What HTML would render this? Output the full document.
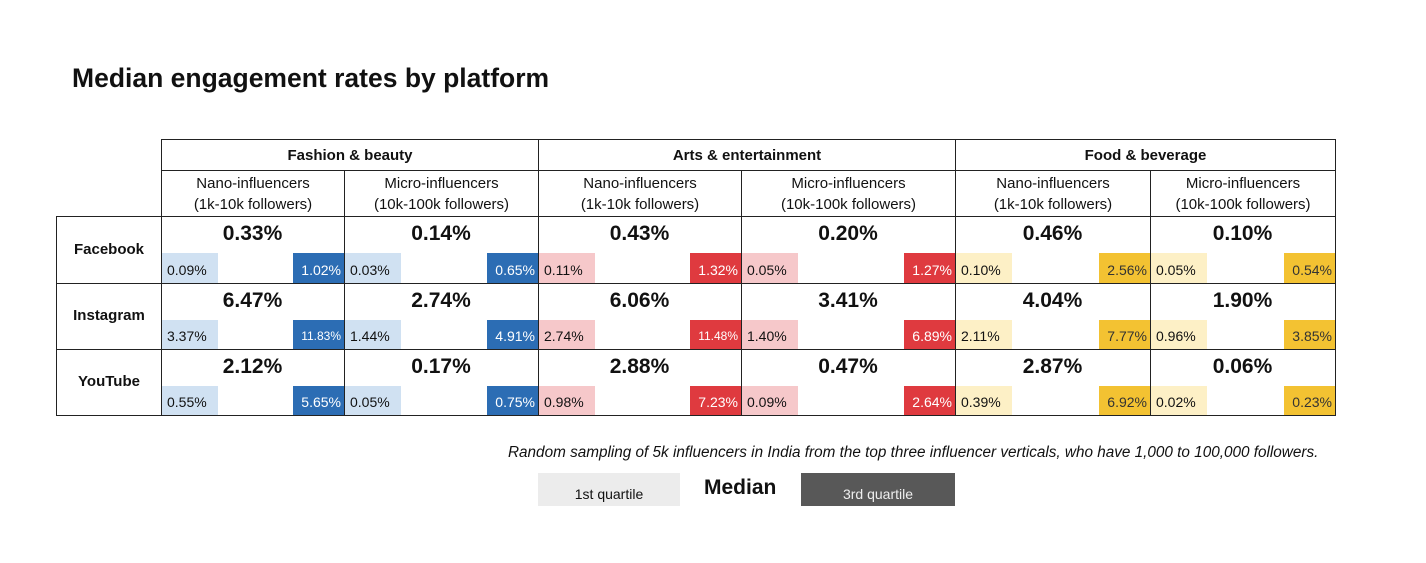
<!DOCTYPE html>
<html><head><meta charset="utf-8">
<style>
body{margin:0;width:1426px;height:563px;background:#fff;font-family:"Liberation Sans",sans-serif;position:relative;overflow:hidden;color:#111}
.a{position:absolute;box-sizing:border-box}
.t{white-space:nowrap}
</style></head><body>
<div class="a t" style="left:72px;top:63px;font-size:26.5px;font-weight:bold">Median engagement rates by platform</div>
<div id="tbl"></div>
<div class="a t" style="left:508px;top:444px;font-size:15.3px;font-style:italic">Random sampling of 5k influencers in India from the top three influencer verticals, who have 1,000 to 100,000 followers.</div>
<div class="a" style="left:538px;top:473px;width:142px;height:33px;background:#ececec;font-size:14px;text-align:center;line-height:42px">1st quartile</div>
<div class="a t" style="left:704px;top:476px;font-size:21px;font-weight:bold">Median</div>
<div class="a" style="left:801px;top:473px;width:154px;height:33px;background:#585858;color:#eee;font-size:14px;text-align:center;line-height:42px">3rd quartile</div>
<script>
const categories=["Fashion & beauty","Arts & entertainment","Food & beverage"];
const tiers=["Nano-influencers|(1k-10k followers)","Micro-influencers|(10k-100k followers)"];
const platforms=["Facebook","Instagram","YouTube"];
const medians=[[0.33,0.14,0.43,0.20,0.46,0.10],[6.47,2.74,6.06,3.41,4.04,1.90],[2.12,0.17,2.88,0.47,2.87,0.06]];
const q1=[[0.09,0.03,0.11,0.05,0.10,0.05],[3.37,1.44,2.74,1.40,2.11,0.96],[0.55,0.05,0.98,0.09,0.39,0.02]];
const q3=[[1.02,0.65,1.32,1.27,2.56,0.54],[11.83,4.91,11.48,6.89,7.77,3.85],[5.65,0.75,7.23,2.64,6.92,0.23]];
const colX=[161,344,538,741,955,1150,1335];
const light=["#d0e1f2","#f6c8ca","#fdf0c6"],dark=["#2c6db4","#df3a3f","#f3c232"],darkTxt=["#fff","#fff","#333"];
const root=document.getElementById('tbl');
function box(x,y,w,h,css,txt){const d=document.createElement('div');d.className='a';d.style.cssText=`left:${x}px;top:${y}px;width:${w}px;height:${h}px;`+css;if(txt!==undefined)d.innerHTML=txt;root.appendChild(d);return d;}
const line='border:1.5px solid #222;';
for(let c=0;c<3;c++){
 const x=colX[c*2],w=colX[c*2+2]-x;
 const e=box(x,139,w+1,32,line+'font-size:15px;font-weight:bold;text-align:center;line-height:32px',categories[c]);
 
 
}
for(let i=0;i<6;i++){
 const x=colX[i],w=colX[i+1]-x;
 const e=box(x,170,w+1,47,line+'font-size:15px;text-align:center;line-height:21px;padding-top:2px',tiers[i%2].replace('|','<br>'));
 
 
}
const rowY=[216,283,349,415];
for(let r=0;r<3;r++){
 const y=rowY[r],h=rowY[r+1]-y;
 const p=box(56,y,106,h+1,line+'font-size:15px;font-weight:bold;text-align:center;line-height:'+(h-2)+'px',platforms[r]);
 
 
 for(let i=0;i<6;i++){
  const x=colX[i],w=colX[i+1]-x,g=Math.floor(i/2);
  const cell=box(x,y,w+1,h+1,line);
  
  
  const m=box(x,y+6,w,26,'text-align:center;font-size:21px;font-weight:bold',medians[r][i].toFixed(2)+'%');
  
  
  const a=box(x+1,y+37,56,h-37,`background:${light[g]};font-size:14px;padding-left:5px;line-height:${h-33}px`,q1[r][i].toFixed(2)+'%');
  
  
  const s=q3[r][i]>=10?'font-size:12px;':'font-size:14px;';
  const b=box(x+w-51,y+37,51,h-37,`background:${dark[g]};color:${darkTxt[g]};${s}text-align:right;padding-right:3px;line-height:${h-33}px`,q3[r][i].toFixed(2)+'%');
  
  
 }
}
</script>
</body></html>
